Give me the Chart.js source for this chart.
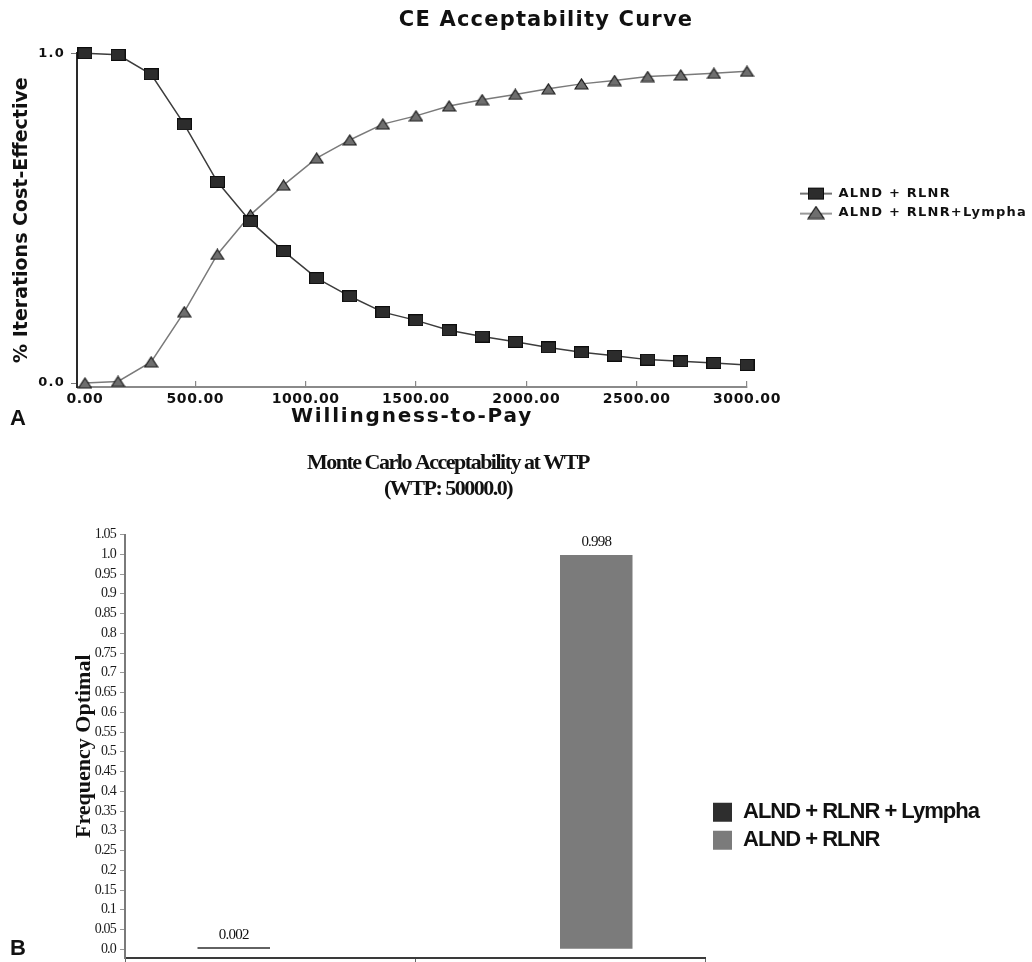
<!DOCTYPE html>
<html><head><meta charset="utf-8">
<script src="https://cdn.jsdelivr.net/npm/chart.js@4.4.1/dist/chart.umd.min.js"></script>
<style>
html,body{margin:0;padding:0;background:#fff;width:1032px;height:962px;overflow:hidden;}
#wrapA{position:absolute;left:0;top:0;width:1032px;height:430px;}
#wrapB{position:absolute;left:0;top:430px;width:1032px;height:542px;}
.panel{position:absolute;font-family:'Liberation Sans',Arial,sans-serif;font-weight:bold;font-size:22px;line-height:22px;color:#111;}
</style></head><body>
<div id="wrapA"><canvas id="cA" width="1032" height="430"></canvas></div>
<div id="wrapB"><canvas id="cB" width="1032" height="542"></canvas></div>
<div class="panel" style="left:10px;top:407px;">A</div>
<div class="panel" style="left:10px;top:937px;">B</div>
<script>
// ---------- DATA ----------
const wtp = [0, 150, 300, 450, 600, 750, 900, 1050, 1200, 1350, 1500, 1650, 1800, 1950, 2100, 2250, 2400, 2550, 2700, 2850, 3000];
const alndRlnr = [1.0, 0.995, 0.936, 0.784, 0.61, 0.49, 0.40, 0.318, 0.263, 0.215, 0.19, 0.16, 0.141, 0.125, 0.108, 0.093, 0.083, 0.071, 0.066, 0.061, 0.055];
const alndRlnrLympha = [0.0, 0.005, 0.064, 0.216, 0.39, 0.51, 0.60, 0.682, 0.737, 0.785, 0.81, 0.84, 0.859, 0.875, 0.892, 0.907, 0.917, 0.929, 0.934, 0.939, 0.945];
const xTickValuesA = [0, 500, 1000, 1500, 2000, 2500, 3000];
const yTickValuesA = [0, 1];

const barCategories = ['ALND + RLNR + Lympha', 'ALND + RLNR'];
const barLympha = [0.002, null];
const barRlnr = [null, 0.998];
const yTickValuesB = [0, 0.05, 0.1, 0.15, 0.2, 0.25, 0.3, 0.35, 0.4, 0.45, 0.5, 0.55, 0.6, 0.65, 0.7, 0.75, 0.8, 0.85, 0.9, 0.95, 1.0, 1.05];

const titleA = 'CE Acceptability Curve';
const xTitleA = 'Willingness-to-Pay';
const yTitleA = '% Iterations Cost-Effective';
const titleB = ['Monte Carlo Acceptability at WTP', '(WTP: 50000.0)'];
const yTitleB = 'Frequency Optimal';

// ---------- helpers ----------
function patchSpacing(ctx, fn) {
  const P = CanvasRenderingContext2D.prototype;
  ctx.fillText = function (t, ...rest) { this.letterSpacing = fn(String(t)) + 'px'; return P.fillText.call(this, t, ...rest); };
  ctx.measureText = function (t) { this.letterSpacing = fn(String(t)) + 'px'; return P.measureText.call(this, t); };
}
function mk(w, h, draw) { const c = document.createElement('canvas'); c.width = w; c.height = h; draw(c.getContext('2d'), w, h); return c; }
function drawSq(g, x, y, w, h) { g.fillStyle = '#2c2c2c'; g.fillRect(x, y, w, h); g.strokeStyle = '#0d0d0d'; g.lineWidth = 1; g.strokeRect(x + 0.5, y + 0.5, w - 1, h - 1); }
function drawTri(g, x, y, w, h) { g.beginPath(); g.moveTo(x + 1, y + h - 1); g.lineTo(x + w / 2, y + 1); g.lineTo(x + w - 1, y + h - 1); g.closePath(); g.fillStyle = '#6e6e6e'; g.fill(); g.strokeStyle = '#1a1a1a'; g.lineWidth = 1.2; g.stroke(); }
const sqImg = mk(15, 12, (g, w, h) => drawSq(g, 0, 0, w, h));
const triImg = mk(15, 12, (g, w, h) => drawTri(g, 0, 0, w, h));
const sqLeg = mk(32, 14, (g, w, h) => { g.strokeStyle = '#444'; g.lineWidth = 1.5; g.beginPath(); g.moveTo(0, 7); g.lineTo(w, 7); g.stroke(); drawSq(g, 8, 1, 16, 12); });
const triLeg = mk(32, 14, (g, w, h) => { g.strokeStyle = '#777'; g.lineWidth = 1.5; g.beginPath(); g.moveTo(0, 8); g.lineTo(w, 8); g.stroke(); drawTri(g, 7, 0, 18, 14); });

function boxPlugin(o) {
  return {
    id: 'boxShift',
    beforeLayout(chart) {
      const lg = chart.legend;
      if (lg && !lg._patched) {
        const orig = lg.fit;
        lg.fit = function () { orig.call(this); this.width = o.legendWidth; };
        lg._patched = true;
      }
    },
    afterLayout(chart) {
      const lg = chart.legend, t = chart.titleBlock;
      if (lg) { lg.left += o.legendDx; lg.right += o.legendDx; lg.top += o.legendDy; lg.bottom += o.legendDy; }
      if (t) { t.left += o.titleDx; t.right += o.titleDx; }
    }
  };
}

Chart.defaults.animation = false;
Chart.defaults.color = '#111';

// ---------- Chart A ----------
const ctxA = document.getElementById('cA').getContext('2d');
patchSpacing(ctxA, t => t === titleA ? 1.2 : t === xTitleA ? 1.8 : t === yTitleA ? 0 : t.startsWith('ALND') ? 1.2 : (t === '1.0' || t === '0.0') ? 1.2 : 0.6);
const FA = 'DejaVu Sans';
new Chart(ctxA, {
  type: 'line',
  data: {
    datasets: [
      { label: 'ALND + RLNR', data: wtp.map((x, i) => ({ x, y: alndRlnr[i] })), borderColor: '#3c3c3c', borderWidth: 1.5, pointStyle: sqImg, pointRadius: 8, clip: false, tension: 0, fill: false },
      { label: 'ALND + RLNR+Lympha', data: wtp.map((x, i) => ({ x, y: alndRlnrLympha[i] })), borderColor: '#7a7a7a', borderWidth: 1.5, pointStyle: triImg, pointRadius: 8, clip: false, tension: 0, fill: false }
    ]
  },
  options: {
    responsive: false,
    events: [],
    layout: { padding: 0 },
    scales: {
      x: {
        type: 'linear', min: -36, max: 3000,
        afterBuildTicks: s => { s.ticks = xTickValuesA.map(v => ({ value: v })); },
        afterFit: s => { s.height = 43; },
        ticks: { autoSkip: false, maxRotation: 0, padding: 10, font: { family: FA, size: 14, weight: 'bold' }, color: '#111', callback: v => Number(v).toFixed(2) },
        grid: { drawOnChartArea: false, tickLength: -6, color: '#888', lineWidth: 1.2 },
        border: { color: '#8a8a8a', width: 2 },
        title: { display: true, text: xTitleA, font: { family: FA, size: 20, weight: 'bold' }, color: '#111', padding: { top: 0, bottom: 1 } }
      },
      y: {
        type: 'linear', min: -0.012, max: 1.0,
        afterBuildTicks: s => { s.ticks = yTickValuesA.map(v => ({ value: v })); },
        afterFit: s => { s.width = 77; },
        ticks: { padding: 6, font: { family: FA, size: 13, weight: 'bold' }, color: '#111', callback: v => Number(v).toFixed(1) },
        grid: { drawOnChartArea: false, tickLength: 6, color: '#777' },
        border: { color: '#2a2a2a', width: 2 },
        title: { display: true, text: yTitleA, font: { family: FA, size: 19, weight: 'bold' }, color: '#111', padding: { top: 11, bottom: 0 } }
      }
    },
    plugins: {
      tooltip: { enabled: false },
      title: { display: true, text: titleA, font: { family: FA, size: 21, weight: 'bold' }, color: '#111', padding: { top: 8, bottom: 20 } },
      legend: {
        position: 'right', fullSize: false, align: 'center',
        labels: {
          usePointStyle: true, pointStyleWidth: 32, padding: 6, color: '#111',
          font: { family: FA, size: 13, weight: 'bold' },
          generateLabels: chart => {
            const items = Chart.defaults.plugins.legend.labels.generateLabels(chart);
            items.forEach((it, i) => { it.pointStyle = i === 0 ? sqLeg : triLeg; });
            return items;
          }
        }
      }
    }
  },
  plugins: [boxPlugin({ legendWidth: 285, legendDx: 47, legendDy: -17, titleDx: 30 })]
});

// ---------- Chart B ----------
const ctxB = document.getElementById('cB').getContext('2d');
patchSpacing(ctxB, t => titleB.includes(t) ? -1.5 : t === yTitleB ? 0 : t.startsWith('ALND') ? -1 : -0.8);
const FB = 'Liberation Serif';
const barValueLabels = {
  id: 'barValueLabels',
  afterDatasetsDraw(chart) {
    const c = chart.ctx;
    c.save();
    c.font = '15px "Liberation Serif", serif';
    c.fillStyle = '#111'; c.textAlign = 'center'; c.textBaseline = 'bottom';
    chart.data.datasets.forEach((ds, i) => {
      chart.getDatasetMeta(i).data.forEach((el, j) => {
        const v = ds.data[j];
        if (v == null) return;
        c.fillText(v.toFixed(3), el.x, el.y - 5);
      });
    });
    c.restore();
  }
};
new Chart(ctxB, {
  type: 'bar',
  data: {
    labels: barCategories,
    datasets: [
      { label: 'ALND + RLNR + Lympha', data: barLympha, backgroundColor: '#2e2e2e', borderWidth: 0, minBarLength: 2 },
      { label: 'ALND + RLNR', data: barRlnr, backgroundColor: '#7b7b7b', borderWidth: 0 }
    ]
  },
  options: {
    responsive: false,
    events: [],
    layout: { padding: 0 },
    datasets: { bar: { categoryPercentage: 0.5, barPercentage: 1.0 } },
    scales: {
      x: {
        type: 'category', offset: true,
        afterFit: s => { s.height = 14; },
        ticks: { display: false },
        grid: { offset: true, drawOnChartArea: false, tickLength: 6, color: '#666' },
        border: { color: '#3a3a3a', width: 2 }
      },
      y: {
        type: 'linear', min: -0.022, max: 1.05,
        afterBuildTicks: s => { s.ticks = yTickValuesB.map(v => ({ value: v })); },
        afterFit: s => { s.width = 125; },
        ticks: { padding: 4, font: { family: FB, size: 14 }, color: '#1a1a1a', callback: v => (Math.round(v * 100) % 10 === 0 ? Number(v).toFixed(1) : Number(v).toFixed(2)) },
        grid: { drawOnChartArea: false, tickLength: 5, color: '#999' },
        border: { color: '#7a7a7a', width: 2 },
        title: { display: true, text: yTitleB, font: { family: FB, size: 22, weight: 'bold' }, color: '#111', padding: { top: 71, bottom: 0 } }
      }
    },
    plugins: {
      tooltip: { enabled: false },
      title: { display: true, text: titleB, font: { family: FB, size: 22, weight: 'bold', lineHeight: 1.2 }, color: '#111', padding: { top: 20, bottom: 31.7 } },
      legend: {
        position: 'right', fullSize: false, align: 'center',
        labels: {
          boxWidth: 19, boxHeight: 19, padding: 6, color: '#111',
          font: { family: "'Liberation Sans'", size: 22, weight: 'bold' }
        }
      }
    }
  },
  plugins: [barValueLabels, boxPlugin({ legendWidth: 327, legendDx: 2, legendDy: 80, titleDx: -68 })]
});
</script>
</body></html>
